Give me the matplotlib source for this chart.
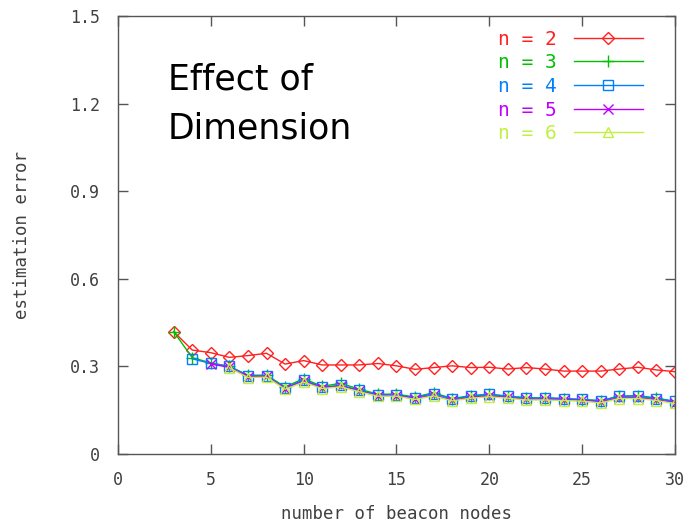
import matplotlib
matplotlib.use("Agg")
import matplotlib.pyplot as plt

# ---- data ----
x_n2 = list(range(3, 31))
y_n2 = [0.419, 0.356, 0.347, 0.331, 0.337, 0.345, 0.308, 0.320, 0.305, 0.305,
        0.305, 0.310, 0.302, 0.290, 0.296, 0.302, 0.296, 0.297, 0.291, 0.296,
        0.291, 0.284, 0.284, 0.284, 0.291, 0.297, 0.288, 0.282]

x_n3 = list(range(3, 31))
y_n3 = [0.419, 0.330, 0.312, 0.300, 0.270, 0.270, 0.230, 0.258, 0.232, 0.242,
        0.222, 0.205, 0.205, 0.195, 0.210, 0.190, 0.200, 0.205, 0.198, 0.193,
        0.192, 0.190, 0.186, 0.183, 0.198, 0.200, 0.192, 0.180]

x_n4 = list(range(4, 31))
y_n4 = [0.326, 0.310, 0.300, 0.268, 0.268, 0.226, 0.254, 0.228, 0.236, 0.218,
        0.203, 0.203, 0.193, 0.207, 0.188, 0.198, 0.204, 0.198, 0.191, 0.192,
        0.190, 0.187, 0.182, 0.198, 0.198, 0.190, 0.180]

x_n5 = list(range(5, 31))
y_n5 = [0.308, 0.297, 0.265, 0.266, 0.224, 0.250, 0.226, 0.234, 0.215,
        0.200, 0.200, 0.190, 0.202, 0.184, 0.194, 0.199, 0.194, 0.187, 0.188,
        0.186, 0.184, 0.178, 0.193, 0.193, 0.186, 0.176]

x_n6 = list(range(6, 31))
y_n6 = [0.295, 0.262, 0.263, 0.222, 0.246, 0.224, 0.230, 0.213,
        0.198, 0.198, 0.187, 0.199, 0.182, 0.191, 0.196, 0.191, 0.185, 0.185,
        0.183, 0.181, 0.175, 0.190, 0.190, 0.183, 0.173]

series = [
    ("n = 2", x_n2, y_n2, "#ff2020", "D"),
    ("n = 3", x_n3, y_n3, "#00c000", "+"),
    ("n = 4", x_n4, y_n4, "#0080ff", "s"),
    ("n = 5", x_n5, y_n5, "#c000ff", "x"),
    ("n = 6", x_n6, y_n6, "#c0f040", "^"),
]
x_ticks = [0, 5, 10, 15, 20, 25, 30]
y_ticks = [0, 0.3, 0.6, 0.9, 1.2, 1.5]
y_ticklabels = ["0", "0.3", "0.6", "0.9", "1.2", "1.5"]

mono = "DejaVu Sans Mono"
txtcol = "#404040"

fig = plt.figure(figsize=(6.94, 5.27), dpi=100)
ax = fig.add_axes([0.170, 0.1385, 0.8026, 0.8311])

msizes = {"D": 6.5, "+": 9, "s": 7, "x": 7, "^": 7}
for label, xs, ys, col, mk in series:
    ax.plot(xs, ys, color=col, lw=1.0, marker=mk, ms=msizes[mk],
            mfc="none", mec=col, mew=1.0, label=label)

ax.set_xlim(0, 30)
ax.set_ylim(0, 1.5)
ax.set_xticks(x_ticks)
ax.set_yticks(y_ticks)
ax.set_yticklabels(y_ticklabels)
ax.tick_params(direction="in", length=7, width=1, colors="#555555",
               top=True, right=True, labelsize=12, labelcolor=txtcol)
ax.tick_params(axis="y", pad=13)
ax.tick_params(axis="x", pad=12)
for lab in ax.get_xticklabels() + ax.get_yticklabels():
    lab.set_family(mono)
for sp in ax.spines.values():
    sp.set_color("#555555")
    sp.set_linewidth(1.0)

ax.set_xlabel("number of beacon nodes", family=mono, fontsize=12.5,
              color=txtcol, labelpad=12)
ax.set_ylabel("estimation error", family=mono, fontsize=12.5,
              color=txtcol, labelpad=28)

leg = ax.legend(loc="upper right", bbox_to_anchor=(0.9425, 0.969), frameon=False,
                markerfirst=False, handlelength=3.55, handletextpad=0.9,
                labelspacing=0.24, borderpad=0, borderaxespad=0,
                labelcolor="linecolor",
                prop={"family": mono, "size": 14})

ax.text(0.09, 0.893, "Effect of\nDimension", transform=ax.transAxes,
        fontsize=25, family="DejaVu Sans", va="top", ha="left",
        color="black", linespacing=1.55)

fig.savefig("out.png", dpi=100)
